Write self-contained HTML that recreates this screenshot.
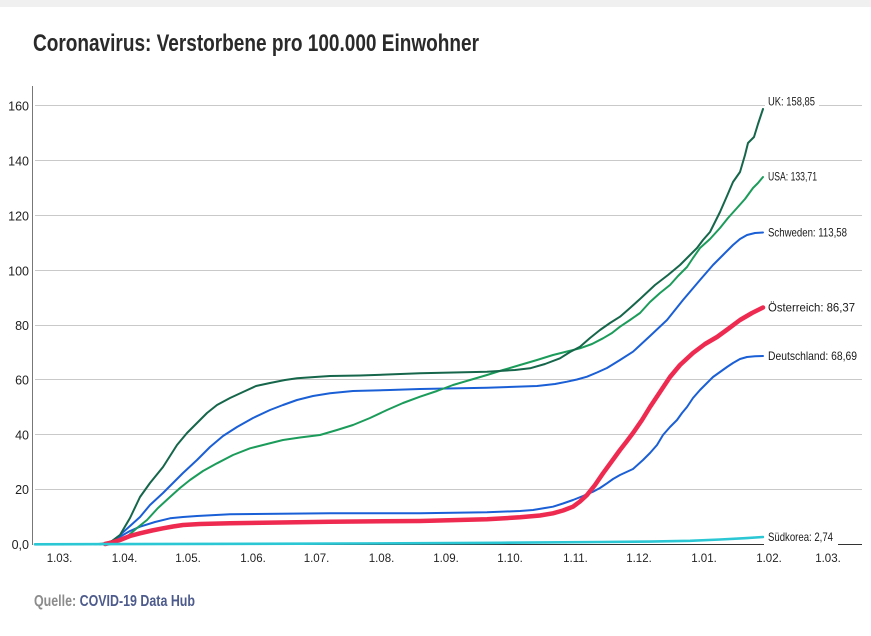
<!DOCTYPE html>
<html>
<head>
<meta charset="utf-8">
<style>
html,body{margin:0;padding:0;background:#fff;}
body{width:871px;height:636px;overflow:hidden;}
svg{display:block;}
text{font-family:"Liberation Sans",sans-serif;}
</style>
</head>
<body>
<svg width="871" height="636" viewBox="0 0 871 636" xmlns="http://www.w3.org/2000/svg">
<rect x="0" y="0" width="871" height="636" fill="#fff"/>
<rect x="0" y="0" width="871" height="7" fill="#f0f0f0"/>

<text x="33" y="51" font-size="24" font-weight="bold" fill="#2a2a2a" textLength="446" lengthAdjust="spacingAndGlyphs">Coronavirus: Verstorbene pro 100.000 Einwohner</text>

<!-- gridlines -->
<g stroke="#c9c9c9" stroke-width="1">
<line x1="35" y1="105.5" x2="862" y2="105.5"/>
<line x1="35" y1="160.5" x2="862" y2="160.5"/>
<line x1="35" y1="215.5" x2="862" y2="215.5"/>
<line x1="35" y1="270.5" x2="862" y2="270.5"/>
<line x1="35" y1="325.5" x2="862" y2="325.5"/>
<line x1="35" y1="379.5" x2="862" y2="379.5"/>
<line x1="35" y1="434.5" x2="862" y2="434.5"/>
<line x1="35" y1="489.5" x2="862" y2="489.5"/>
</g>
<line x1="35" y1="544.5" x2="862" y2="544.5" stroke="#333" stroke-width="1"/>
<line x1="32.5" y1="86" x2="32.5" y2="545" stroke="#777" stroke-width="1"/>

<!-- y tick labels -->
<g font-size="12.5" fill="#222" text-anchor="end">
<text x="29" y="110.5">160</text>
<text x="29" y="165.5">140</text>
<text x="29" y="220.5">120</text>
<text x="29" y="275.5">100</text>
<text x="29" y="330">80</text>
<text x="29" y="384.5">60</text>
<text x="29" y="439.5">40</text>
<text x="29" y="494">20</text>
<text x="29" y="549">0,0</text>
</g>

<!-- x tick labels -->
<g font-size="11.5" fill="#222" text-anchor="middle">
<text x="59.5" y="562">1.03.</text>
<text x="124.5" y="562">1.04.</text>
<text x="188" y="562">1.05.</text>
<text x="253" y="562">1.06.</text>
<text x="316.5" y="562">1.07.</text>
<text x="381.5" y="562">1.08.</text>
<text x="446" y="562">1.09.</text>
<text x="510" y="562">1.10.</text>
<text x="575.5" y="562">1.11.</text>
<text x="639" y="562">1.12.</text>
<text x="704" y="562">1.01.</text>
<text x="769" y="562">1.02.</text>
<text x="828" y="562">1.03.</text>
</g>

<!-- series -->
<g fill="none" stroke-linejoin="round" stroke-linecap="round">
<polyline stroke="#1a5fd6" stroke-width="2" points="100,544.3 110,542 120,536.7 130,531 140,526.7 155,522 170,518.3 183,517 197,516 230,514.3 330,513.3 420,513.3 487,512.3 520,511 533,510 545,508 553,506.7 563,503.5 573,500 583,496 593,491.7 600,488 607,483.3 613,479 620,475 633,469 643,460 650,453 657,445 663,435 670,427 677,420 682,413 687,407 693,398 700,390 707,383 713,377 720,372 727,367 733,363 740,359 747,357 755,356.3 763,356"/>

<polyline stroke="#1a5fd6" stroke-width="2" points="100,544.3 110,542.5 120,535 130,526 140,517 150,505 163,493 173,483 183,473 197,460 210,447 223,436 237,427 253,418 270,410 283,405 297,400 313,396 330,393.3 353,391 390,390 420,389 487,387.7 537,386 555,384 567,381.7 577,379.5 587,376.7 597,372.5 607,368 620,360 633,351.7 650,336 667,320 683,300 700,280 713,265 723,255 733,245 740,239 747,235 755,233 763,232.5"/>

<polyline stroke="#1b9c5a" stroke-width="2" points="100,544.3 110,543 118,540 127,536.7 137,528 147,520 158,508 170,497 180,488 190,480 203,471 217,463.3 233,455 250,448.3 267,444 283,440 300,437.5 320,435 337,430 353,425 370,418 387,410 403,403 420,396.7 437,391 453,385 470,380 487,375 503,370 520,365 537,360 553,355 567,351.5 580,348.3 592,344 603,338.3 612,333 620,326.7 630,320 640,313 650,302 660,293 670,285 678,276 687,267 693,258 700,248 710,239 720,228 728,218 737,208 745,199 753,188 758,183 763,177"/>

<polyline stroke="#15664a" stroke-width="2" points="95,544.3 105,543.5 112,541 120,535 130,518 140,497 150,483 163,467 170,456 177,445 187,433 197,423 207,413 217,405 230,398 243,392 256,386 270,383 285,380 297,378.3 315,377 330,376 360,375.5 420,373.3 487,371.7 515,370 530,368.3 545,364 560,358.3 570,352 580,346.7 590,338 600,330 610,323 620,316.7 630,308 640,299 655,285 668,275 680,265 690,255 697,248 703,240 710,232 715,222 720,212 727,196 733,182 740,172 745,155 748,143 754,137 758,124 763,109"/>

<polyline stroke="#ee2a50" stroke-width="4.5" points="105,544 112,542.5 120,540 130,536 140,533.3 152,530.5 163,528.3 173,526.5 183,525 200,524 230,523.3 280,522.5 330,521.7 420,521 487,519.3 520,517.3 540,515.5 553,513.3 563,510.5 573,506.7 580,501.5 587,495 595,485 603,473.3 612,461 620,450 627,441 633,433 642,420 650,407 660,392 670,377 680,365 693,353 705,344 717,337 728,329 740,320 752,313 763,307.5"/>

<polyline stroke="#2cc7d5" stroke-width="2.6" points="35,544.3 120,544.1 300,543.7 400,543.3 500,542.8 600,542 650,541.6 690,540.8 720,539.5 745,538.2 763,537"/>
</g>

<!-- series labels -->
<g font-size="12" fill="#1a1a1a">
<rect x="765" y="96" width="54" height="13" fill="#fff"/>
<text x="768" y="105.7" textLength="47" lengthAdjust="spacingAndGlyphs">UK: 158,85</text>
<text x="768" y="180.7" textLength="49" lengthAdjust="spacingAndGlyphs">USA: 133,71</text>
<text x="768" y="236.7" textLength="79" lengthAdjust="spacingAndGlyphs">Schweden: 113,58</text>
<text x="768" y="311.7" textLength="87" lengthAdjust="spacingAndGlyphs">Österreich: 86,37</text>
<text x="768" y="360" textLength="89" lengthAdjust="spacingAndGlyphs">Deutschland: 68,69</text>
<rect x="764" y="530" width="74" height="16" fill="#fff"/>
<text x="768" y="541" textLength="65" lengthAdjust="spacingAndGlyphs">Südkorea: 2,74</text>
</g>

<!-- source -->
<text x="34" y="606" font-size="15.5" font-weight="bold" textLength="161" lengthAdjust="spacingAndGlyphs"><tspan fill="#8c8c8c">Quelle: </tspan><tspan fill="#4d5b8c">COVID-19 Data Hub</tspan></text>
</svg>
</body>
</html>
